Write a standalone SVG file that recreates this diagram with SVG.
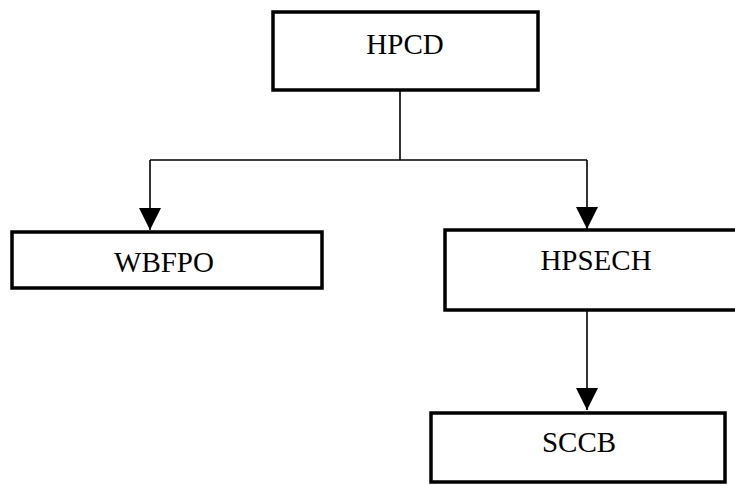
<svg xmlns="http://www.w3.org/2000/svg" width="735" height="485" viewBox="0 0 735 485">
<defs>
<style>
.box{fill:#fff;stroke:#000;stroke-width:3.5}
.lbl{font-family:"Liberation Serif","Times New Roman",serif;font-size:29px;fill:#000;text-anchor:middle}
.ln{fill:none;stroke:#000;stroke-width:1.6}
</style>
<marker id="ah" markerUnits="userSpaceOnUse" markerWidth="22" markerHeight="22" viewBox="0 0 22 22" refX="22" refY="11" orient="auto">
<path d="M0,0 L22,11 L0,22 Z" fill="#000"/>
</marker>
</defs>
<g id="connectors">
<path class="ln" d="M400,90 V160"/>
<path class="ln" d="M150,160 H587"/>
<path class="ln" d="M150,160 V230" marker-end="url(#ah)"/>
<path class="ln" d="M587,160 V229" marker-end="url(#ah)"/>
<path class="ln" d="M587,310 V410" marker-end="url(#ah)"/>
</g>
<g id="HPCD">
<rect class="box" x="273" y="12" width="265" height="78"/>
<text class="lbl" x="405" y="54">HPCD</text>
</g>
<g id="WBFPO">
<rect class="box" x="12" y="232" width="310" height="56"/>
<text class="lbl" x="164" y="272">WBFPO</text>
</g>
<g id="HPSECH">
<rect class="box" x="445" y="230" width="300" height="80"/>
<text class="lbl" x="596" y="270">HPSECH</text>
</g>
<g id="SCCB">
<rect class="box" x="431" y="413" width="294" height="69"/>
<text class="lbl" x="579" y="452">SCCB</text>
</g>
</svg>
